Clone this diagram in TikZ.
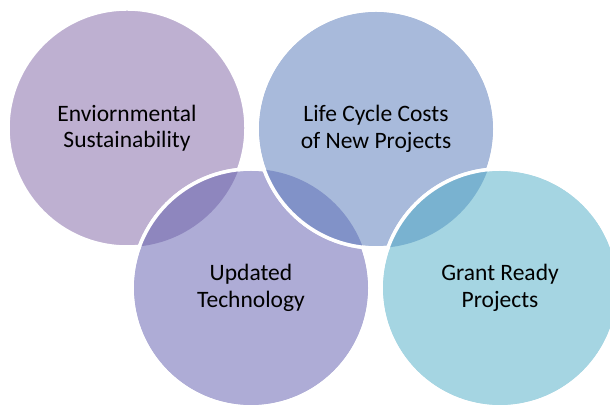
\documentclass[tikz,border=0pt]{standalone}
\usepackage{fontspec}
\setmainfont{Carlito}
\usepackage{tikz}

\definecolor{envcol}{HTML}{BEB0D1}
\definecolor{costcol}{HTML}{A8BADB}
\definecolor{techcol}{HTML}{AEACD6}
\definecolor{grantcol}{HTML}{A5D5E2}
\definecolor{envtech}{HTML}{8E86BE}
\definecolor{costtech}{HTML}{8192C8}
\definecolor{costgrant}{HTML}{79B2D0}

\begin{document}
\begin{tikzpicture}[x=0.5bp, y=-0.5bp,
    bubble/.style={circle, minimum size=119bp, draw=white, line width=1.75bp,
        align=center, text=black, font=\fontsize{11.8}{13.2}\selectfont},
    rim/.style={draw=white, line width=1.75bp}]
    \useasboundingbox (0,0) rectangle (610,405);

    % Enviornmental Sustainability
    \node[bubble, fill=envcol] (env) at (127,128) {Enviornmental\\Sustainability};

    % Updated Technology, over the first one
    \node[bubble, fill=techcol] (tech) at (251,288) {Updated\\Technology};
    \begin{scope}
        \clip (env.center) circle (119);
        \fill[envtech] (tech.center) circle (119);
    \end{scope}
    \draw[rim] (tech.center) circle (119);

    % Life Cycle Costs, over the technology one
    \node[bubble, fill=costcol] (cost) at (376,129) {Life Cycle Costs\\of New Projects};
    \begin{scope}
        \clip (tech.center) circle (119);
        \fill[costtech] (cost.center) circle (119);
    \end{scope}
    \draw[rim] (cost.center) circle (119);

    % Grant Ready Projects, over the costs one
    \node[bubble, fill=grantcol] (grant) at (500,288) {Grant Ready\\Projects};
    \begin{scope}
        \clip (cost.center) circle (119);
        \fill[costgrant] (grant.center) circle (119);
    \end{scope}
    \draw[rim] (grant.center) circle (119);
\end{tikzpicture}
\end{document}
